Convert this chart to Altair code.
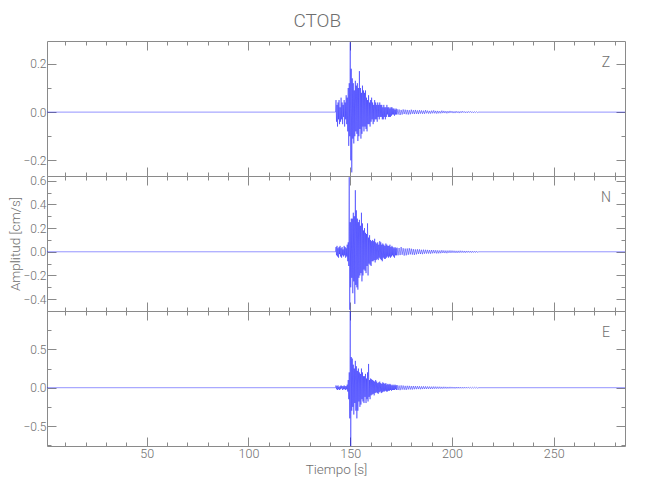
import altair as alt
import numpy as np
import pandas as pd

# ---------------- data ----------------
STATION = "CTOB"
COMPONENTS = ["Z", "N", "E"]

T_START, T_END = 1.0, 285.0          # record span [s]
FINE_T0, FINE_DT = 143.0, 0.25       # onset of the dense part
TAIL_DT = 0.5

Z_FINE = [0.05,-0.04,0.03,-0.06,0.04,-0.03,0.05,-0.05,0.02,-0.04,0.06,-0.03,0.04,-0.05,0.03,-0.02,0.05,-0.06,0.04,-0.03,0.07,-0.05,0.06,-0.08,
          0.10,-0.14,0.12,-0.10,0.29,-0.20,0.18,-0.25,
          0.14,-0.11,0.12,-0.13,0.09,-0.10,0.13,-0.08,
          0.11,-0.09,0.12,-0.12,0.10,-0.10,0.17,-0.07,
          0.10,-0.11,0.08,-0.09,0.11,-0.06,0.09,-0.08,
          0.08,-0.06,0.09,-0.07,0.06,-0.08,0.05,-0.05,
          0.07,-0.05,0.04,-0.06,0.05,-0.04,0.06,-0.03,
          0.04,-0.05,0.03,-0.04,0.05,-0.03,0.04,-0.03,
          0.03,-0.04,0.04,-0.02,0.03,-0.03,0.04,-0.02,
          0.03,-0.02,0.03,-0.03,0.02,-0.03,0.03,-0.02,
          0.02,-0.03,0.02,-0.02,0.03,-0.01,0.02,-0.02,
          0.02,-0.02,0.015,-0.02,0.02,-0.015,0.02,-0.01,
          0.015,-0.01,0.015,-0.015,0.01,-0.01,0.015,-0.01]
Z_TAIL = [0.012,-0.010,0.011,-0.012,0.009,-0.010,0.011,-0.008,0.010,-0.009,
          0.009,-0.010,0.008,-0.009,0.010,-0.007,0.008,-0.008,0.009,-0.007,
          0.007,-0.008,0.008,-0.006,0.007,-0.007,0.006,-0.007,0.008,-0.005,
          0.006,-0.006,0.005,-0.006,0.006,-0.005,0.007,-0.005,0.005,-0.006,
          0.005,-0.005,0.004,-0.005,0.006,-0.004,0.005,-0.004,0.004,-0.005,
          0.004,-0.004,0.005,-0.003,0.004,-0.004,0.003,-0.004,0.004,-0.003,
          0.003,-0.004,0.003,-0.003,0.004,-0.002,0.003,-0.003,0.002,-0.003,
          0.003,-0.002,0.003,-0.002,0.002,-0.003,0.002,-0.002,0.002,-0.002]

N_FINE = [0.04,-0.03,0.05,-0.04,0.03,-0.05,0.04,-0.02,0.05,-0.04,0.03,-0.05,0.04,-0.03,0.02,-0.04,0.05,-0.03,0.04,-0.05,0.03,-0.04,0.06,-0.08,
          0.08,-0.12,0.63,-0.49,0.25,-0.30,0.28,-0.22,
          0.28,-0.35,0.33,-0.25,0.30,-0.44,0.52,-0.28,
          0.35,-0.30,0.28,-0.32,0.25,-0.22,0.27,-0.20,
          0.22,-0.18,0.33,-0.25,0.24,-0.20,0.18,-0.15,
          0.20,-0.16,0.16,-0.18,0.15,-0.12,0.24,-0.20,
          0.12,-0.10,0.14,-0.11,0.10,-0.12,0.09,-0.08,
          0.10,-0.08,0.09,-0.07,0.11,-0.09,0.08,-0.07,
          0.07,-0.06,0.08,-0.07,0.06,-0.05,0.09,-0.06,
          0.08,-0.07,0.06,-0.08,0.07,-0.05,0.06,-0.06,
          0.05,-0.06,0.07,-0.05,0.06,-0.04,0.05,-0.05,
          0.05,-0.04,0.06,-0.05,0.04,-0.04,0.05,-0.03,
          0.04,-0.04,0.03,-0.05,0.04,-0.03,0.03,-0.03]
N_TAIL = [0.035,-0.030,0.032,-0.028,0.040,-0.025,0.030,-0.032,0.027,-0.030,
          0.028,-0.025,0.030,-0.022,0.026,-0.024,0.022,-0.026,0.020,-0.022,
          0.021,-0.018,0.020,-0.019,0.017,-0.020,0.018,-0.016,0.017,-0.015,
          0.016,-0.015,0.014,-0.016,0.015,-0.013,0.014,-0.012,0.013,-0.014,
          0.012,-0.013,0.011,-0.012,0.013,-0.010,0.011,-0.011,0.010,-0.012,
          0.010,-0.009,0.011,-0.009,0.010,-0.008,0.009,-0.009,0.008,-0.009,
          0.008,-0.008,0.009,-0.007,0.008,-0.007,0.007,-0.008,0.007,-0.006,
          0.007,-0.006,0.006,-0.007,0.006,-0.006,0.005,-0.006,0.006,-0.005]

E_FINE = [0.03,-0.02,0.02,-0.03,0.03,-0.02,0.01,-0.03,0.02,-0.02,0.03,-0.01,0.02,-0.03,0.02,-0.02,0.03,-0.02,0.02,-0.03,0.02,-0.02,0.04,-0.05,
          0.10,-0.15,0.20,-0.40,1.00,-0.76,0.40,-0.30,
          0.38,-0.25,0.30,-0.35,0.25,-0.20,0.35,-0.30,
          0.28,-0.40,0.22,-0.30,0.25,-0.18,0.20,-0.25,
          0.18,-0.22,0.25,-0.15,0.20,-0.18,0.15,-0.20,
          0.15,-0.12,0.18,-0.20,0.12,-0.15,0.20,-0.18,
          0.31,-0.12,0.10,-0.15,0.12,-0.10,0.11,-0.09,
          0.10,-0.08,0.09,-0.10,0.08,-0.07,0.10,-0.06,
          0.08,-0.07,0.06,-0.08,0.07,-0.06,0.08,-0.05,
          0.06,-0.07,0.05,-0.06,0.07,-0.05,0.06,-0.05,
          0.05,-0.04,0.06,-0.05,0.04,-0.05,0.05,-0.04,
          0.04,-0.04,0.05,-0.03,0.04,-0.04,0.03,-0.03,
          0.04,-0.03,0.03,-0.03,0.04,-0.02,0.03,-0.03]
E_TAIL = [0.035,-0.030,0.028,-0.032,0.030,-0.025,0.028,-0.026,0.024,-0.028,
          0.025,-0.022,0.024,-0.023,0.021,-0.024,0.022,-0.020,0.021,-0.019,
          0.020,-0.018,0.019,-0.020,0.017,-0.018,0.018,-0.016,0.017,-0.016,
          0.016,-0.015,0.015,-0.016,0.014,-0.015,0.015,-0.013,0.014,-0.013,
          0.013,-0.012,0.013,-0.012,0.011,-0.012,0.012,-0.010,0.011,-0.011,
          0.010,-0.010,0.011,-0.009,0.010,-0.009,0.009,-0.010,0.009,-0.008,
          0.009,-0.008,0.008,-0.008,0.007,-0.008,0.008,-0.007,0.007,-0.007,
          0.007,-0.006,0.006,-0.007,0.006,-0.006,0.006,-0.005,0.005,-0.006]

Y_DOMAINS = {"Z": [-0.265, 0.295], "N": [-0.50, 0.64], "E": [-0.76, 1.0]}
Y_MAJOR = {"Z": [-0.2, 0.0, 0.2], "N": [-0.4, -0.2, 0.0, 0.2, 0.4, 0.6], "E": [-0.5, 0.0, 0.5]}
Y_MINOR = {"Z": [-0.1, 0.1], "N": [-0.5, -0.3, -0.1, 0.1, 0.3, 0.5], "E": [-0.75, -0.25, 0.25, 0.75]}
X_DOMAIN = [T_START, T_END]
X_MAJOR = [50, 100, 150, 200, 250]
X_MINOR = [10, 20, 30, 40, 60, 70, 80, 90, 110, 120, 130, 140, 160, 170, 180, 190,
           210, 220, 230, 240, 260, 270, 280]

SERIES = {"Z": (Z_FINE, Z_TAIL), "N": (N_FINE, N_TAIL), "E": (E_FINE, E_TAIL)}

# ---------------- style ----------------
W, H = 578, 135
FONT = "Roboto, Liberation Sans, sans-serif"
FW = 300
TXT = "#6e6e6e"
FRAME = "#8a8a8a"
MAJ, MIN = 9, 4


def trace_frame(fine, tail):
    t_fine = FINE_T0 + FINE_DT * np.arange(len(fine))
    t_tail_start = FINE_T0 + FINE_DT * len(fine)
    t_tail = t_tail_start + TAIL_DT * np.arange(len(tail))
    t_end_tail = t_tail_start + TAIL_DT * len(tail)
    t = np.concatenate([[T_START, FINE_T0 - FINE_DT], t_fine, t_tail, [t_end_tail, T_END]])
    v = np.concatenate([[0.0, 0.0], fine, tail, [0.0, 0.0]])
    return pd.DataFrame({"t": t, "v": v})


def axis(orient, values, size, labels=False, fmt=None, title=None, title_pad=None,
         label_pad=2, label_size=12.5):
    kw = dict(orient=orient, values=values, tickSize=size, offset=-size,
              domain=False, grid=False, labels=labels, ticks=True,
              tickColor=FRAME, tickWidth=1, minExtent=0, title=title)
    if labels:
        kw.update(labelFont=FONT, labelFontSize=label_size, labelFontWeight=FW, labelColor=TXT,
                  labelPadding=label_pad, labelFlush=False, labelOverlap=False)
        if fmt:
            kw["format"] = fmt
    if title:
        kw.update(titleFont=FONT, titleFontSize=13.5, titleColor=TXT, titleFontWeight=FW)
        if title_pad is not None:
            kw["titlePadding"] = title_pad
    return alt.Axis(**kw)


def panel(comp, bottom=False, ylab=False):
    df = trace_frame(*SERIES[comp])
    xs = alt.Scale(domain=X_DOMAIN, nice=False, zero=False)
    ys = alt.Scale(domain=Y_DOMAINS[comp], nice=False, zero=False)
    base = alt.Chart(df)

    line = base.mark_line(color="#0000ff", strokeWidth=0.5, opacity=0.85, clip=True).encode(
        x=alt.X("t:Q", scale=xs,
                axis=axis("bottom", X_MAJOR, MAJ, labels=bottom, fmt="d",
                          title="Tiempo [s]" if bottom else None, title_pad=3, label_pad=1)),
        y=alt.Y("v:Q", scale=ys,
                axis=axis("left", Y_MAJOR[comp], MAJ, labels=True, fmt=".1f",
                          title="Amplitud [cm/s]" if ylab else None, title_pad=0,
                          label_pad=1, label_size=12)),
    )
    minor1 = base.mark_line(opacity=0).encode(
        x=alt.X("t:Q", scale=xs, axis=axis("bottom", X_MINOR, MIN)),
        y=alt.Y("v:Q", scale=ys, axis=axis("left", Y_MINOR[comp], MIN)),
    )
    major2 = base.mark_line(opacity=0).encode(
        x=alt.X("t:Q", scale=xs, axis=axis("top", X_MAJOR, MAJ)),
        y=alt.Y("v:Q", scale=ys, axis=axis("right", Y_MAJOR[comp], MAJ)),
    )
    minor2 = base.mark_line(opacity=0).encode(
        x=alt.X("t:Q", scale=xs, axis=axis("top", X_MINOR, MIN)),
        y=alt.Y("v:Q", scale=ys, axis=axis("right", Y_MINOR[comp], MIN)),
    )
    lab = alt.Chart(pd.DataFrame({"c": [comp]})).mark_text(
        font=FONT, fontSize=14, fontWeight=FW, color=TXT, align="center", baseline="middle"
    ).encode(text="c:N", x=alt.value(W - 19), y=alt.value(22))

    return alt.layer(line, minor1, major2, minor2, lab).resolve_axis(
        x="independent", y="independent"
    ).properties(width=W, height=H)


chart = alt.vconcat(
    panel("Z"), panel("N", ylab=True), panel("E", bottom=True),
    spacing=0, bounds="flush",
    title=alt.TitleParams(STATION, font=FONT, fontSize=19, fontWeight=FW, color=TXT,
                          anchor="middle", offset=9),
).properties(
    padding={"left": 0, "top": 4, "right": 10, "bottom": 10}
).configure_view(stroke=FRAME, strokeWidth=1)

chart.save("out.html", embed_options={"renderer": "svg", "actions": False})
